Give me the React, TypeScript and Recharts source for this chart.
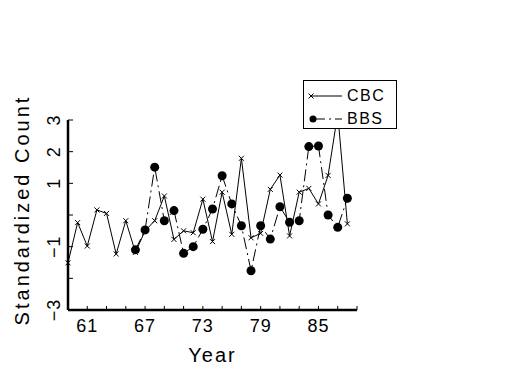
import { Legend, Line, LineChart, XAxis, YAxis } from "recharts";

const years = [
  59, 60, 61, 62, 63, 64, 65, 66, 67, 68, 69, 70, 71, 72, 73,
  74, 75, 76, 77, 78, 79, 80, 81, 82, 83, 84, 85, 86, 87, 88,
];
const cbc = [
  -1.51, -0.24, -0.98, 0.16, 0.05, -1.23, -0.18, -1.18, -0.5, -0.18, 0.6, -0.77, -0.5, -0.56, 0.5,
  -0.84, 0.72, -0.61, 1.79, -0.72, -0.58, 0.81, 1.26, -0.66, 0.72, 0.84, 0.35, 1.25, 3.2, -0.28,
];
const bbs = [
  null, null, null, null, null, null, null, -1.1, -0.47, 1.51, -0.18, 0.14, -1.21, -1.0, -0.45,
  0.19, 1.24, 0.35, -0.34, -1.76, -0.34, -0.76, 0.26, -0.23, -0.18, 2.16, 2.18, 0.0, -0.39, 0.53,
];
const seriesNames = ["CBC", "BBS"];
const xTicks = [59, 61, 63, 65, 67, 69, 71, 73, 75, 77, 79, 81, 83, 85, 87, 89];
const xLabels = [61, 67, 73, 79, 85];
const yTicks = [-3, -2, -1, 0, 1, 2, 3];
const yLabels = [3, 2, 1, -1, -3];

const data = years.map((y, i) => ({ year: y, CBC: cbc[i], BBS: bbs[i] }));

const FONT = "'Liberation Sans', Arial, sans-serif";

const fmt = (v: number) => (v < 0 ? "\u2212" + Math.abs(v) : String(v));

function XTick({ x, y, payload }: any) {
  const v = payload.value;
  return (
    <g>
      <line x1={x} y1={y} x2={x} y2={y - 4} stroke="#000" strokeWidth={1} />
      {xLabels.includes(v) && (
        <text x={x} y={y + 22} textAnchor="middle" fontSize={18} fontFamily={FONT} letterSpacing={1}>
          {v}
        </text>
      )}
    </g>
  );
}

function YTick({ x, y, payload }: any) {
  const v = payload.value;
  return (
    <g>
      <line x1={x} y1={y} x2={x + 5} y2={y} stroke="#000" strokeWidth={1} />
      {yLabels.includes(v) && (
        <text
          x={x - 14}
          y={y}
          transform={`rotate(-90, ${x - 14}, ${y})`}
          textAnchor="middle"
          dominantBaseline="central"
          fontSize={18}
          fontFamily={FONT}
          letterSpacing={1}
        >
          {fmt(v)}
        </text>
      )}
    </g>
  );
}

function YTitle({ viewBox }: any) {
  const cx = viewBox.x + 22;
  const cy = viewBox.y + viewBox.height / 2 - 5;
  return (
    <text
      x={cx}
      y={cy}
      transform={`rotate(-90, ${cx}, ${cy})`}
      textAnchor="middle"
      dominantBaseline="central"
      fontSize={20}
      fontFamily={FONT}
      letterSpacing={3}
    >
      Standardized Count
    </text>
  );
}

function XTitle({ viewBox }: any) {
  return (
    <text
      x={viewBox.x + viewBox.width / 2}
      y={viewBox.y + 52}
      textAnchor="middle"
      fontSize={20}
      fontFamily={FONT}
      letterSpacing={2}
    >
      Year
    </text>
  );
}

function Cross({ cx, cy }: any) {
  if (cx == null || cy == null) return null;
  const s = 2.5;
  return (
    <path d={`M${cx - s},${cy - s}L${cx + s},${cy + s}M${cx - s},${cy + s}L${cx + s},${cy - s}`} stroke="#000" strokeWidth={1} />
  );
}

function Dot({ cx, cy }: any) {
  if (cx == null || cy == null) return null;
  return <circle cx={cx} cy={cy} r={4.5} fill="#000" />;
}

function LegendBox({ payload }: any) {
  const items = [...(payload || [])].sort(
    (a: any, b: any) => seriesNames.indexOf(a.value) - seriesNames.indexOf(b.value)
  );
  return (
    <div style={{ width: 94, height: 49, border: "1px solid #000", background: "#fff", boxSizing: "border-box", position: "relative" }}>
      {items.map((p: any, i: number) => (
        <div key={p.value} style={{ position: "absolute", left: 0, top: 6 + i * 23, height: 18, display: "flex", alignItems: "center" }}>
          <svg width={43} height={18}>
            {p.value === "CBC" ? (
              <>
                <line x1={6} y1={9} x2={38} y2={9} stroke="#000" />
                <Cross cx={7} cy={9} />
              </>
            ) : (
              <>
                <line x1={9} y1={9} x2={38} y2={9} stroke="#000" strokeDasharray="12 4 2 4" />
                <circle cx={9} cy={9} r={3.5} fill="#000" />
              </>
            )}
          </svg>
          <span style={{ fontFamily: FONT, fontSize: 16, letterSpacing: 1.5, lineHeight: "18px" }}>{p.value}</span>
        </div>
      ))}
    </div>
  );
}

export default function App() {
  return (
    <div style={{ position: "absolute", left: 0, top: 0, width: 525, height: 375, background: "#fff" }}>
      <LineChart width={525} height={375} data={data} margin={{ top: 120, right: 168, bottom: 0, left: 0 }}>
        <XAxis
          dataKey="year"
          type="number"
          domain={[59, 89]}
          ticks={xTicks}
          interval={0}
          height={65}
          tickSize={0}
          tickMargin={0}
          tickLine={false}
          tick={<XTick />}
          axisLine={{ stroke: "#000", strokeWidth: 2.5 }}
          label={<XTitle />}
        />
        <YAxis
          type="number"
          domain={[-3, 3]}
          ticks={yTicks}
          interval={0}
          width={68}
          allowDataOverflow
          tickSize={0}
          tickMargin={0}
          tickLine={false}
          tick={<YTick />}
          axisLine={{ stroke: "#000", strokeWidth: 2.5 }}
          label={<YTitle />}
        />
        <Legend
          layout="vertical"
          align="center"
          verticalAlign="middle"
          content={<LegendBox />}
          wrapperStyle={{ position: "absolute", left: 303, top: 80, width: 94, zIndex: 10 }}
        />
        <Line
          dataKey="CBC"
          stroke="#000"
          strokeWidth={1}
          dot={<Cross />}
          activeDot={false}
          isAnimationActive={false}
        />
        <Line
          dataKey="BBS"
          stroke="#000"
          strokeWidth={1}
          strokeDasharray="12 4 2 4"
          dot={<Dot />}
          activeDot={false}
          connectNulls={false}
          isAnimationActive={false}
        />
      </LineChart>
    </div>
  );
}
